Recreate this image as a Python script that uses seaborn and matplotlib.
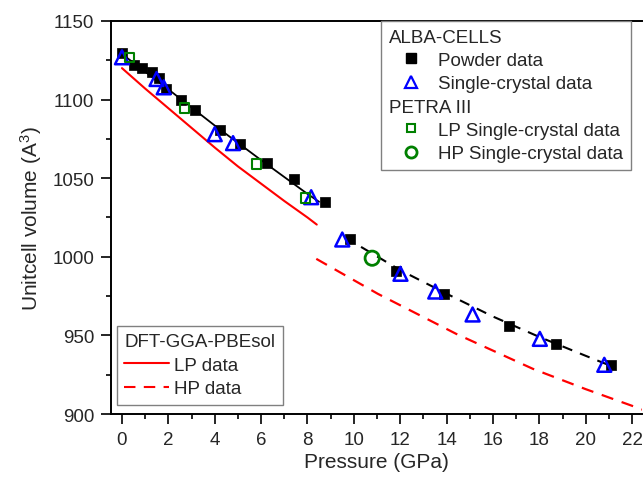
import pandas as pd
import matplotlib
matplotlib.use('Agg')
import matplotlib.pyplot as plt
from matplotlib.lines import Line2D
from matplotlib.ticker import MultipleLocator
import seaborn as sns

# ALBA-CELLS data
powder_p = [0.0, 0.52, 0.85, 1.28, 1.61, 1.92, 2.55, 3.15, 4.22, 5.1, 6.27, 7.44, 8.74,
            9.85, 11.83, 13.88, 16.7, 18.71, 21.08]
powder_v = [1129.6, 1122.3, 1120.2, 1117.4, 1113.8, 1106.5, 1099.6, 1093.5, 1080.6, 1071.8,
            1059.7, 1049.6, 1034.9, 1011.4, 990.9, 976.4, 955.7, 944.7, 930.9]
single_p = [0.0, 1.49, 1.8, 4.0, 4.79, 8.16, 9.5, 12.01, 13.51, 15.12, 18.02, 20.8]
single_v = [1126.9, 1113.1, 1107.8, 1078.0, 1072.3, 1037.9, 1011.0, 989.2, 977.9, 963.3,
            947.8, 931.3]

# PETRA III data
lp_sc_p = [0.31, 2.71, 5.8, 7.9]
lp_sc_v = [1126.9, 1094.7, 1059.1, 1037.5]
hp_sc_p = [10.79]
hp_sc_v = [999.1]

# EoS fits to experiment
fit_lp_p = [0.0, 2.0, 4.0, 6.0, 8.0, 8.5]
fit_lp_v = [1129.0, 1106.5, 1083.5, 1061.5, 1040.0, 1035.0]
fit_hp_p = [9.6, 10.0, 12.0, 14.0, 16.0, 18.0, 20.0, 21.1]
fit_hp_v = [1012.0, 1009.0, 991.5, 976.5, 962.0, 949.0, 937.0, 930.5]

# DFT-GGA-PBEsol
dft_lp_p = [0.0, 1.0, 2.0, 3.0, 4.0, 5.0, 6.0, 7.0, 8.0, 8.4]
dft_lp_v = [1120.0, 1107.0, 1094.5, 1082.0, 1069.5, 1057.5, 1046.5, 1035.5, 1025.0, 1020.5]
dft_hp_p = [8.38, 11.04, 14.41, 17.71, 20.0, 22.15, 22.6]
dft_hp_v = [998.7, 976.4, 951.0, 928.8, 915.8, 904.4, 902.0]

sns.set_theme(style='ticks')
plt.rcParams['font.family'] = ['Liberation Sans', 'DejaVu Sans']
plt.rcParams['mathtext.default'] = 'regular'

fig = plt.figure(figsize=(6.43, 4.81), dpi=100)
ax = fig.add_axes([0.1726, 0.1372, 0.826, 0.8171])

sns.lineplot(x=fit_lp_p, y=fit_lp_v, color='black', lw=1.3, sort=False, estimator=None, ax=ax)
sns.lineplot(x=fit_hp_p, y=fit_hp_v, color='black', lw=1.5, linestyle=(0, (5, 4)),
             sort=False, estimator=None, ax=ax)
sns.lineplot(x=dft_lp_p, y=dft_lp_v, color='red', lw=1.5, sort=False, estimator=None, ax=ax)
sns.lineplot(x=dft_hp_p, y=dft_hp_v, color='red', lw=1.6, linestyle=(0, (5.5, 4)),
             sort=False, estimator=None, ax=ax)

sns.scatterplot(x=powder_p, y=powder_v, marker='s', s=62, color='black',
                edgecolor='black', linewidth=0.5, ax=ax, zorder=3)
sns.scatterplot(x=single_p, y=single_v, marker='^', s=100, facecolor='none',
                edgecolor='blue', linewidth=1.8, ax=ax, zorder=4)
sns.scatterplot(x=lp_sc_p, y=lp_sc_v, marker='s', s=45, facecolor='none',
                edgecolor='green', linewidth=1.5, ax=ax, zorder=4)
sns.scatterplot(x=hp_sc_p, y=hp_sc_v, marker='o', s=105, facecolor='none',
                edgecolor='green', linewidth=2, ax=ax, zorder=4)

ax.set_xlim(-0.474, 22.43)
ax.set_ylim(900, 1150)
ax.xaxis.set_major_locator(MultipleLocator(2))
ax.xaxis.set_minor_locator(MultipleLocator(1))
ax.yaxis.set_major_locator(MultipleLocator(50))
ax.yaxis.set_minor_locator(MultipleLocator(25))
ax.tick_params(which='major', length=7, width=1.2, labelsize=13.5, color='black', pad=5)
ax.tick_params(which='minor', length=3.5, width=1.2, color='black')
for s in ax.spines.values():
    s.set_linewidth(1.4)
    s.set_color('black')
ax.spines['right'].set_visible(False)

ax.set_xlabel('Pressure (GPa)', fontsize=15, labelpad=3)
ax.set_ylabel('Unitcell volume (A$^{3}$)', fontsize=15, labelpad=6)

blank = Line2D([], [], linestyle='none')
top_handles = [
    blank,
    Line2D([], [], linestyle='none', marker='s', ms=7, color='black'),
    Line2D([], [], linestyle='none', marker='^', ms=8, mfc='none', mec='blue', mew=1.6),
    blank,
    Line2D([], [], linestyle='none', marker='s', ms=5.5, mfc='none', mec='green', mew=1.5),
    Line2D([], [], linestyle='none', marker='o', ms=8, mfc='none', mec='green', mew=2),
]
top_labels = ['ALBA-CELLS', 'Powder data', 'Single-crystal data', 'PETRA III',
              'LP Single-crystal data', 'HP Single-crystal data']
bot_handles = [
    blank,
    Line2D([], [], color='red', lw=1.5),
    Line2D([], [], color='red', lw=1.5, linestyle=(0, (5.5, 4))),
]
bot_labels = ['DFT-GGA-PBEsol', 'LP data', 'HP data']
headers = {'ALBA-CELLS', 'PETRA III', 'DFT-GGA-PBEsol'}

leg_kw = dict(fontsize=13.5, handlelength=2.4, handletextpad=0.25, labelspacing=0.33,
              borderpad=0.4, borderaxespad=0, fancybox=False, framealpha=1,
              edgecolor='gray')
leg1 = ax.legend(top_handles, top_labels, loc='upper right',
                 bbox_to_anchor=(0.979, 1.0), **leg_kw)
leg1.get_frame().set_linewidth(1.0)
ax.add_artist(leg1)
leg2 = ax.legend(bot_handles, bot_labels, loc='lower left',
                 bbox_to_anchor=(0.011, 0.024), **leg_kw)
leg2.get_frame().set_linewidth(1.0)

# headers sit at the left edge of the box, without a handle
for leg in (leg1, leg2):
    for col in leg._legend_handle_box.get_children():
        for row in col.get_children():
            h, t = row.get_children()
            if t.get_text() in headers:
                h.width = 0
                row.sep = 0

fig.savefig('out.png', dpi=100)
